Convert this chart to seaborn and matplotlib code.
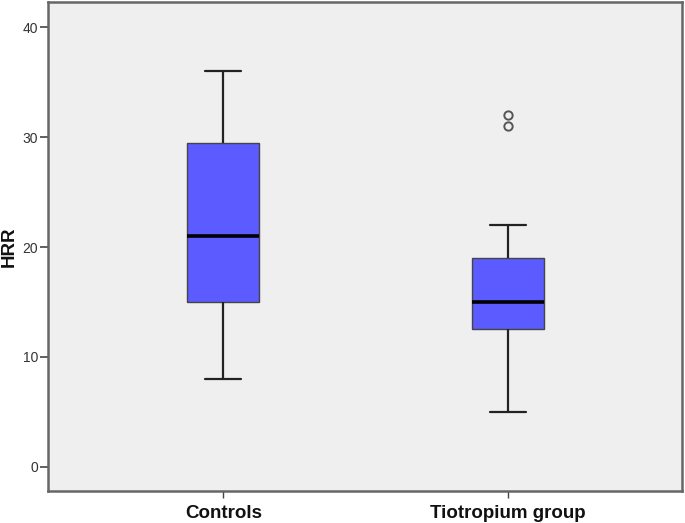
import matplotlib
matplotlib.use("Agg")
import matplotlib.pyplot as plt
import seaborn as sns
import pandas as pd

# Data (values chosen to reproduce the box statistics)
groups = ["Controls", "Tiotropium group"]
controls_hrr = [8, 15, 21, 29.5, 36]
tiotropium_hrr = [5, 8, 10, 12.5, 13, 14, 15, 16, 18, 19, 22, 31, 32]
y_ticks = [0, 10, 20, 30, 40]

df = pd.DataFrame({
    "group": [groups[0]] * len(controls_hrr) + [groups[1]] * len(tiotropium_hrr),
    "HRR": controls_hrr + tiotropium_hrr,
})

sns.set_theme(style="white")
plt.rcParams["font.family"] = ["Liberation Sans", "DejaVu Sans"]

fig = plt.figure(figsize=(6.85, 5.23), dpi=100)
ax = fig.add_axes([48 / 685, 1 - 491 / 523, (682 - 48) / 685, (491 - 2) / 523])
ax.set_facecolor("#efefef")

sns.boxplot(
    data=df, x="group", y="HRR", order=groups, ax=ax,
    width=0.253, color="#5b5bff", saturation=1, whis=1.5,
    linecolor="#222222", linewidth=1.3,
    medianprops=dict(color="black", linewidth=2.6),
    boxprops=dict(edgecolor="#444444", linewidth=1.0),
    whiskerprops=dict(color="#222222", linewidth=1.6),
    capprops=dict(color="#222222", linewidth=1.6),
    flierprops=dict(marker="o", markersize=6, markerfacecolor="none",
                    markeredgecolor="#555555", markeredgewidth=1.4),
)

ax.set_xlim(-0.617, 1.613)
ax.set_ylim(-2.2, 42.3)
ax.set_yticks(y_ticks)
ax.set_yticklabels([str(t) for t in y_ticks], fontsize=10, color="#333333")
ax.set_xticks([0, 1])
ax.set_xticklabels(groups, fontsize=13.5, fontweight="bold", color="#111111")
ax.set_xlabel("")
ax.set_ylabel("HRR", fontsize=13.5, fontweight="bold", color="#111111")
ax.yaxis.label.set_verticalalignment("center")
ax.yaxis.set_label_coords(-39 / 634, 0.5)

ax.tick_params(axis="y", length=6, width=1.2, color="#444444", left=True, pad=1)
ax.tick_params(axis="x", length=5, width=1.0, color="#444444", bottom=True, pad=5)
for s in ax.spines.values():
    s.set_visible(True)
    s.set_color("#666666")
    s.set_linewidth(1.8)

fig.savefig("out.png", dpi=100)
